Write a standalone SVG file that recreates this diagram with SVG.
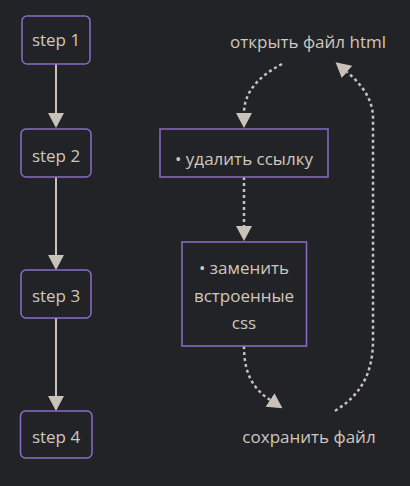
<svg xmlns="http://www.w3.org/2000/svg" width="410" height="486" viewBox="0 0 410 486">
<style>
.bg{fill:#222326}
.node rect{fill:#222326;stroke:#8a6cc6;stroke-width:1.5}
text{font-family:"Open Sans","Noto Sans",sans-serif;font-size:17px;fill:#cfc8bf;text-anchor:middle}
.solid{fill:none;stroke:#c8c2bb;stroke-width:2}
.dot{fill:none;stroke:#c8c2bb;stroke-width:2.5;stroke-dasharray:3 3}
</style>
<defs>
<marker id="ah" viewBox="0 0 15 16" refX="0" refY="8" markerWidth="15" markerHeight="16" markerUnits="userSpaceOnUse" orient="auto">
<path d="M0,0 L15,8 L0,16 z" fill="#c8c2bb"/>
</marker>
</defs>
<rect class="bg" x="0" y="0" width="410" height="486"/>
<g id="connectors">
<path class="solid" d="M56,64 L56,113" marker-end="url(#ah)"/>
<path class="solid" d="M56,177 L56,255" marker-end="url(#ah)"/>
<path class="solid" d="M56,318 L56,396" marker-end="url(#ah)"/>
<path class="dot" d="M282,64 Q244,84 244,113" marker-end="url(#ah)"/>
<path class="dot" d="M244,177 L244,226" marker-end="url(#ah)"/>
<path class="dot" d="M244,346 C244,372 252,388 270,400" marker-end="url(#ah)"/>
<path class="dot" d="M335,411 C362,394 373,372 373,340 L373,118 C373,98 360,83 347,72" marker-end="url(#ah)"/>
</g>
<g id="step1" class="node"><rect x="22" y="16" width="68" height="48" rx="5"/><text x="56" y="46">step 1</text></g>
<g id="step2" class="node"><rect x="21" y="129" width="70" height="48" rx="5"/><text x="56" y="162">step 2</text></g>
<g id="step3" class="node"><rect x="21" y="270" width="70" height="48" rx="5"/><text x="56" y="302">step 3</text></g>
<g id="step4" class="node"><rect x="20.5" y="411" width="71.5" height="47" rx="5"/><text x="56" y="443">step 4</text></g>
<g id="open"><text x="308" y="48">открыть файл html</text></g>
<g id="delete" class="node"><rect x="160" y="129" width="168" height="48"/><text x="244" y="165">• удалить ссылку</text></g>
<g id="replace" class="node"><rect x="182" y="242" width="124.5" height="104"/><text x="244" y="274">• заменить</text><text x="244" y="302">встроенные</text><text x="244" y="329">css</text></g>
<g id="save"><text x="309" y="443">сохранить файл</text></g>
</svg>
